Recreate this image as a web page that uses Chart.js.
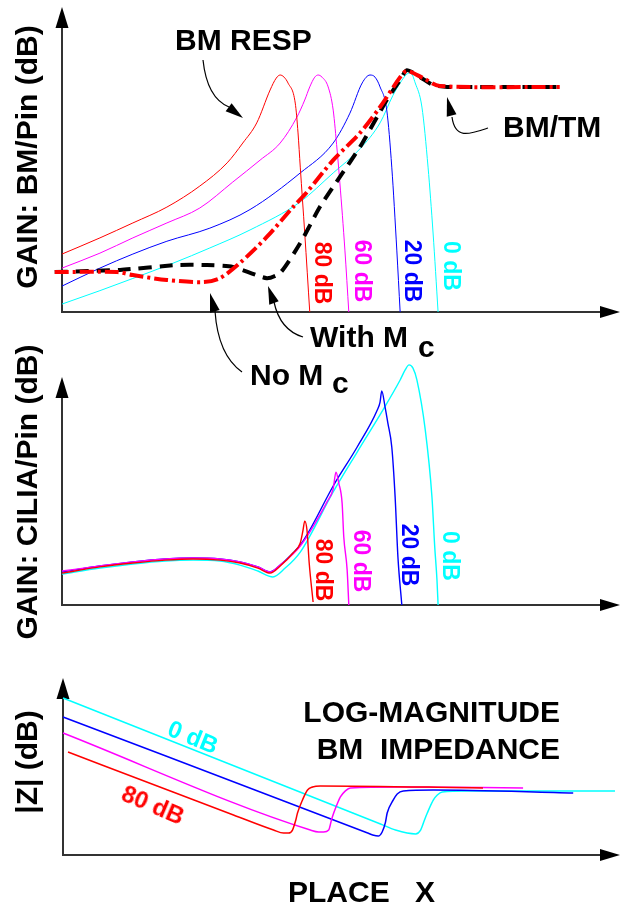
<!DOCTYPE html>
<html>
<head>
<meta charset="utf-8">
<script src="https://cdn.jsdelivr.net/npm/chart.js@4.4.1/dist/chart.umd.min.js"></script>
<style>
    body { margin: 0; width: 621px; height: 909px; position: relative; background: #fff; overflow: hidden; }
    canvas { position: absolute; left: 0; }
    .lbl { position: absolute; font-family: "Liberation Sans", Arial, sans-serif; font-weight: bold; font-size: 30px; line-height: 30px; white-space: pre; color: #000; }
    .rot { position: absolute; font-family: "Liberation Sans", Arial, sans-serif; font-weight: bold; white-space: pre; line-height: 1; transform: translate(-50%, -50%) rotate(var(--a)); }
</style>
</head>
<body>
<canvas id="bmChart" width="621" height="380" style="top:0"></canvas>
<canvas id="ciliaChart" width="621" height="290" style="top:345px"></canvas>
<canvas id="zChart" width="621" height="259" style="top:650px"></canvas>

<div class="rot" style="left:27px;top:157px;font-size:30px;--a:-90deg">GAIN: BM/Pin (dB)</div>
<div class="rot" style="left:27px;top:492px;font-size:30px;--a:-90deg">GAIN: CILIA/Pin (dB)</div>
<div class="rot" style="left:27px;top:762px;font-size:30px;--a:-90deg">|Z| (dB)</div>

<div class="lbl" style="left:175px;top:25px">BM RESP</div>
<div class="lbl" style="left:503px;top:112px">BM/TM</div>
<div class="lbl" style="left:310px;top:322px">With M</div>
<div class="lbl" style="left:418px;top:332px">c</div>
<div class="lbl" style="left:250px;top:360px">No M</div>
<div class="lbl" style="left:332px;top:368px">c</div>
<div class="lbl" style="right:61px;top:697px;text-align:right">LOG-MAGNITUDE</div>
<div class="lbl" style="right:61px;top:734px;text-align:right">BM  IMPEDANCE</div>
<div class="lbl" style="left:288px;top:877px">PLACE</div>
<div class="lbl" style="left:415px;top:877px">X</div>

<div class="rot" style="left:322px;top:273px;font-size:23px;color:#ff0000;--a:90deg">80 dB</div>
<div class="rot" style="left:362px;top:271px;font-size:23px;color:#ff00ff;--a:90deg">60 dB</div>
<div class="rot" style="left:412px;top:271px;font-size:23px;color:#0000ff;--a:90deg">20 dB</div>
<div class="rot" style="left:451px;top:266px;font-size:23px;color:#00ffff;--a:90deg">0 dB</div>

<div class="rot" style="left:323px;top:570px;font-size:23px;color:#ff0000;--a:90deg">80 dB</div>
<div class="rot" style="left:361px;top:561px;font-size:23px;color:#ff00ff;--a:90deg">60 dB</div>
<div class="rot" style="left:409px;top:555px;font-size:23px;color:#0000ff;--a:90deg">20 dB</div>
<div class="rot" style="left:450px;top:556px;font-size:23px;color:#00ffff;--a:90deg">0 dB</div>

<div class="rot" style="left:193px;top:737px;font-size:24px;color:#00ffff;--a:22deg">0 dB</div>
<div class="rot" style="left:153px;top:805px;font-size:24px;color:#ff0000;--a:23deg">80 dB</div>

<script>
// place (0-100 along the cochlea) vs gain, arbitrary dB units
const levels = ['80 dB', '60 dB', '20 dB', '0 dB'];
const levelColors = ['#ff0000', '#ff00ff', '#0000ff', '#00ffff'];

// panel 1: BM response
const bmResp80 = [[0,19.0],[6.8,24.3],[12.7,29.2],[18.8,34.4],[24.7,41.3],[29.6,48.9],[32.4,55.4],[34.9,62.0],[37.3,72.8],[38.4,76.7],[39.1,77.7],[39.8,77.0],[40.5,75.1],[41.8,68.5],[42.3,58.7],[42.7,47.5],[43.5,25.9],[44.4,0]];
const bmResp60 = [[0,14.4],[6.8,19.3],[12.7,24.3],[18.8,29.2],[24.7,34.1],[30.6,42.6],[35.5,49.8],[39.1,55.4],[42.1,63.9],[43.5,69.5],[44.4,73.8],[45.3,77.0],[45.9,77.7],[46.6,77.0],[47.7,73.8],[48.6,66.2],[49.3,53.1],[49.8,42.3],[50.7,20.3],[51.4,0]];
const bmResp20 = [[0,8.5],[6.8,14.4],[12.7,19.0],[18.8,23.2],[26.5,27.5],[33.7,33.6],[42.7,45.6],[48.6,55.4],[51.6,65.2],[53.8,75.1],[55.2,77.7],[56.1,77.0],[57.0,73.8],[58.2,66.2],[59.1,47.5],[60.0,20.3],[60.6,0]];
const bmResp0 = [[0,2.6],[6.8,7.0],[12.7,11.0],[19.9,16.0],[26.5,21.0],[33.7,26.9],[42.7,36.1],[48.6,45.6],[53.4,53.5],[57.0,62.0],[59.3,71.0],[60.6,75.1],[61.8,78.0],[62.5,78.4],[63.3,75.1],[64.5,67.2],[65.6,47.5],[66.5,25.9],[67.4,0]];
const bmWithMc = [[-1.3,13.1],[10.4,13.8],[20.6,15.4],[26.0,15.4],[30.6,14.8],[36.7,11.1],[39.1,12.8],[42.7,22.6],[46.2,34.4],[49.8,44.3],[53.4,54.1],[58.2,69.5],[60.6,76.1],[61.8,79.3],[64.2,77.0],[66.5,74.4],[69.0,73.8],[89.2,73.8]];
const bmNoMc = [[-1.3,13.1],[9.9,13.1],[12.7,12.1],[18.8,10.5],[25.3,9.8],[28.3,11.1],[31.9,16.1],[36.7,24.6],[41.4,34.4],[43.9,39.3],[48.6,49.8],[53.4,58.7],[57.0,67.2],[60.6,77.0],[61.8,79.0],[64.7,76.7],[67.7,74.1],[89.2,73.8]];

// panel 2: cilia response
const cilia80 = [[0,14.0],[6.8,16.7],[12.7,18.4],[18.5,19.7],[23.5,20.2],[28.3,19.7],[31.9,18.4],[35.1,16.2],[37.3,14.0],[39.1,17.1],[41.4,22.8],[42.7,27.2],[43.2,32.9],[43.5,36.8],[43.9,32.9],[44.3,18.4],[45.0,1.3]];
const cilia60 = [[0,14.9],[6.8,17.1],[12.7,18.9],[18.5,20.2],[23.5,20.6],[28.3,20.2],[31.9,18.9],[35.1,16.7],[37.3,14.5],[39.1,17.5],[41.4,22.4],[42.7,25.9],[44.4,32.0],[47.5,45.2],[48.6,51.0],[49.1,58.3],[49.6,53.5],[50.2,44.7],[50.5,29.8],[51.1,15.4],[51.4,0]];
const cilia20 = [[0,14.5],[6.8,17.1],[12.7,18.9],[18.5,20.2],[23.5,20.6],[28.3,20.2],[31.9,18.9],[35.1,16.7],[37.3,14.5],[39.1,17.5],[41.4,22.8],[42.7,26.3],[44.4,32.9],[48.6,52.2],[52.9,69.3],[56.5,85.5],[57.0,89.0],[57.3,93.9],[57.9,86.8],[58.4,79.8],[59.1,69.3],[59.7,47.4],[60.2,21.1],[60.9,0]];
const cilia0 = [[0,13.6],[6.8,16.2],[12.7,18.0],[18.5,19.3],[23.5,19.7],[28.3,19.3],[31.9,17.5],[35.1,14.9],[37.8,12.3],[40.0,16.2],[42.7,23.2],[48.6,49.6],[52.9,67.1],[57.5,85.5],[60.6,98.7],[61.5,103.1],[62.2,105.3],[62.9,103.9],[63.6,98.7],[65.1,76.8],[66.3,47.4],[66.8,25.4],[67.2,11.0],[67.4,0]];

// panel 3: log-magnitude BM impedance
const zMag80 = [[0.9,58.2],[18.8,36.7],[30.6,22.6],[37.8,14.1],[39.6,12.4],[40.5,12.4],[41.2,14.1],[41.8,19.8],[42.1,23.7],[43.0,31.1],[43.9,36.7],[44.8,38.4],[46.2,39.0],[75.4,37.9]];
const zMag60 = [[0,68.9],[44.4,14.1],[45.9,13.0],[46.8,13.0],[47.7,14.1],[48.2,19.8],[48.6,23.7],[49.3,29.4],[49.8,32.8],[50.7,36.2],[51.6,37.9],[60.6,38.4],[82.6,37.9]];
const zMag20 = [[0,78.0],[54.7,12.4],[55.6,11.3],[56.6,10.7],[57.3,13.0],[57.9,18.6],[58.2,23.7],[59.3,31.1],[60.0,34.5],[61.1,36.2],[66.5,36.7],[91.6,35.0]];
const zMag0 = [[0,88.7],[57.0,17.5],[59.7,14.1],[63.3,11.9],[64.2,14.1],[64.9,19.8],[65.4,23.7],[66.5,31.1],[67.2,33.9],[68.1,35.6],[72.6,36.2],[99.1,36.2]];

const toXY = arr => arr.map(([x, y]) => ({ x, y }));

function arrowHead(ctx, tx, ty, fx, fy, len, hw) {
    const dx = tx - fx, dy = ty - fy;
    const d = Math.hypot(dx, dy);
    const ux = dx / d, uy = dy / d;
    const bx = tx - ux * len, by = ty - uy * len;
    ctx.beginPath();
    ctx.moveTo(tx, ty);
    ctx.lineTo(bx - uy * hw, by + ux * hw);
    ctx.lineTo(bx + uy * hw, by - ux * hw);
    ctx.closePath();
    ctx.fill();
}

const axesPlugin = {
    id: 'axesArrows',
    beforeDatasetsDraw(chart) {
        const ctx = chart.ctx;
        const a = chart.chartArea;
        ctx.save();
        ctx.strokeStyle = '#333';
        ctx.fillStyle = '#000';
        ctx.lineWidth = 2;
        ctx.beginPath();
        ctx.moveTo(a.left, a.top + 18);
        ctx.lineTo(a.left, a.bottom);
        ctx.lineTo(a.right - 18, a.bottom);
        ctx.stroke();
        arrowHead(ctx, a.left, a.top, a.left, a.top + 10, 21, 6.5);
        arrowHead(ctx, a.right, a.bottom, a.right - 10, a.bottom, 20, 6);
        ctx.restore();
    }
};

// thin pointer lines ending in a dart, drawn on the top panel
const leaderPlugin = {
    id: 'leaders',
    afterDatasetsDraw(chart) {
        const ctx = chart.ctx;
        ctx.save();
        ctx.strokeStyle = '#000';
        ctx.fillStyle = '#000';
        ctx.lineWidth = 1.2;

        ctx.beginPath();
        ctx.moveTo(203, 60);
        ctx.quadraticCurveTo(207, 98, 229, 107);
        ctx.stroke();
        arrowHead(ctx, 243, 118, 227, 106, 18, 5);

        ctx.beginPath();
        ctx.moveTo(488, 128);
        ctx.bezierCurveTo(470, 134, 455, 140, 452, 117);
        ctx.stroke();
        arrowHead(ctx, 447, 97, 452, 117, 19, 5);

        ctx.beginPath();
        ctx.moveTo(303, 337);
        ctx.quadraticCurveTo(280, 330, 274, 302);
        ctx.stroke();
        arrowHead(ctx, 268, 286, 274, 303, 18, 5);

        ctx.beginPath();
        ctx.moveTo(242, 372);
        ctx.quadraticCurveTo(218, 355, 215, 311);
        ctx.stroke();
        arrowHead(ctx, 210, 293, 215, 312, 19, 5);

        ctx.restore();
    }
};

function thinSet(arr, color, width) {
    return {
        data: toXY(arr),
        borderColor: color,
        borderWidth: width,
        pointRadius: 0,
        fill: false,
        clip: false,
        cubicInterpolationMode: 'monotone'
    };
}

function makeChart(id, datasets, padding, plugins) {
    return new Chart(document.getElementById(id), {
        type: 'line',
        data: { datasets },
        options: {
            responsive: false,
            animation: false,
            devicePixelRatio: 1,
            layout: { padding },
            scales: {
                x: { type: 'linear', min: 0, max: 100, display: false },
                y: { type: 'linear', min: 0, max: 100, display: false }
            },
            plugins: { legend: { display: false }, tooltip: { enabled: false } }
        },
        plugins
    });
}

document.addEventListener('DOMContentLoaded', () => {
    const bmSets = [
        Object.assign(thinSet(bmNoMc, '#ff0000', 4), { borderDash: [14, 4, 3, 4], cubicInterpolationMode: 'default', tension: 0.3 }),
        Object.assign(thinSet(bmWithMc, '#000000', 4), { borderDash: [13, 8], cubicInterpolationMode: 'default', tension: 0.2 }),
        thinSet(bmResp80, levelColors[0], 1),
        thinSet(bmResp60, levelColors[1], 1),
        thinSet(bmResp20, levelColors[2], 1),
        thinSet(bmResp0, levelColors[3], 1)
    ];
    makeChart('bmChart', bmSets, { left: 62, right: 1, top: 7, bottom: 68 }, [axesPlugin, leaderPlugin]);

    const ciliaSets = [cilia80, cilia60, cilia20, cilia0].map((arr, i) => thinSet(arr, levelColors[i], 1.4));
    makeChart('ciliaChart', ciliaSets, { left: 62, right: 1, top: 32, bottom: 30 }, [axesPlugin]);

    const zSets = [zMag80, zMag60, zMag20, zMag0].map((arr, i) => thinSet(arr, levelColors[i], 1.5));
    makeChart('zChart', zSets, { left: 63, right: 1, top: 28, bottom: 54 }, [axesPlugin]);
});
</script>
</body>
</html>
